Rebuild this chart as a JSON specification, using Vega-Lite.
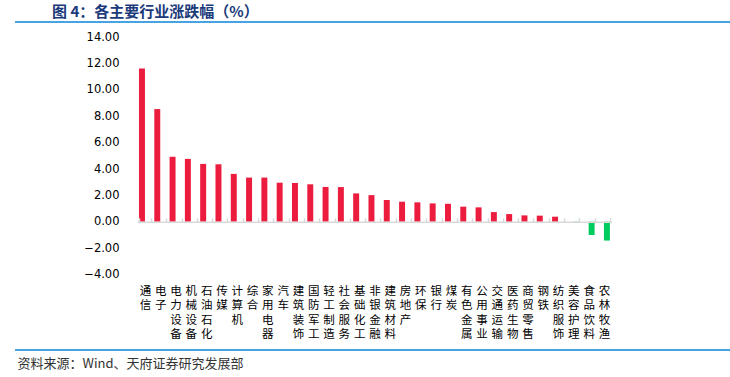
{
  "$schema": "https://vega.github.io/schema/vega-lite/v6.json",
  "width": 715,
  "height": 328,
  "autosize": {"type": "none"},
  "padding": {"left": 15, "top": 22, "right": 0, "bottom": 27},
  "background": "white",
  "title": {
    "text": "图 4：各主要行业涨跌幅（%）",
    "anchor": "start",
    "frame": "group",
    "dx": 37,
    "offset": 1,
    "font": "Noto Sans CJK SC",
    "fontSize": 15,
    "fontWeight": "bold",
    "color": "#1B3A7A"
  },
  "config": {"view": {"stroke": null}},
  "resolve": {"scale": {"y": "independent"}},
  "layer": [
    {
      "data": {
        "values": [
          {"industry": "通信", "value": 11.64, "dir": "涨"},
          {"industry": "电子", "value": 8.55, "dir": "涨"},
          {"industry": "电力设备", "value": 4.93, "dir": "涨"},
          {"industry": "机械设备", "value": 4.77, "dir": "涨"},
          {"industry": "石油石化", "value": 4.39, "dir": "涨"},
          {"industry": "传媒", "value": 4.36, "dir": "涨"},
          {"industry": "计算机", "value": 3.63, "dir": "涨"},
          {"industry": "综合", "value": 3.35, "dir": "涨"},
          {"industry": "家用电器", "value": 3.35, "dir": "涨"},
          {"industry": "汽车", "value": 2.96, "dir": "涨"},
          {"industry": "建筑装饰", "value": 2.94, "dir": "涨"},
          {"industry": "国防军工", "value": 2.84, "dir": "涨"},
          {"industry": "轻工制造", "value": 2.64, "dir": "涨"},
          {"industry": "社会服务", "value": 2.63, "dir": "涨"},
          {"industry": "基础化工", "value": 2.15, "dir": "涨"},
          {"industry": "非银金融", "value": 2.02, "dir": "涨"},
          {"industry": "建筑材料", "value": 1.65, "dir": "涨"},
          {"industry": "房地产", "value": 1.52, "dir": "涨"},
          {"industry": "环保", "value": 1.47, "dir": "涨"},
          {"industry": "银行", "value": 1.39, "dir": "涨"},
          {"industry": "煤炭", "value": 1.36, "dir": "涨"},
          {"industry": "有色金属", "value": 1.14, "dir": "涨"},
          {"industry": "公用事业", "value": 1.09, "dir": "涨"},
          {"industry": "交通运输", "value": 0.73, "dir": "涨"},
          {"industry": "医药生物", "value": 0.58, "dir": "涨"},
          {"industry": "商贸零售", "value": 0.48, "dir": "涨"},
          {"industry": "钢铁", "value": 0.46, "dir": "涨"},
          {"industry": "纺织服饰", "value": 0.38, "dir": "涨"},
          {"industry": "美容护理", "value": -0.1, "dir": "跌"},
          {"industry": "食品饮料", "value": -1.01, "dir": "跌"},
          {"industry": "农林牧渔", "value": -1.43, "dir": "跌"}
        ]
      },
      "mark": {"type": "bar"},
      "encoding": {
        "x": {
          "field": "industry",
          "type": "nominal",
          "sort": null,
          "scale": {"range": [122.3, 596.6], "paddingInner": 0.22, "paddingOuter": 0.11},
          "axis": {
            "orient": "bottom",
            "offset": -128.3,
            "zindex": 1,
            "domain": true,
            "domainColor": "#D9D9D9",
            "domainWidth": 1.5,
            "ticks": true,
            "tickBand": "extent",
            "tickSize": -4,
            "tickColor": "#D9D9D9",
            "tickWidth": 1.5,
            "grid": false,
            "labelAngle": 0,
            "labelAlign": "center",
            "labelBaseline": "top",
            "labelExpr": "split(datum.label, '')",
            "labelFont": "Noto Sans CJK SC",
            "labelFontSize": 11.5,
            "labelLineHeight": 14.3,
            "labelColor": "#000000",
            "labelPadding": 68,
            "labelOverlap": false,
            "title": "资料来源：Wind、天府证券研究发展部",
            "titleX": 2,
            "titleY": 141.3,
            "titleAlign": "left",
            "titleBaseline": "middle",
            "titleAngle": 0,
            "titleFont": "Noto Sans CJK SC",
            "titleFontSize": 13,
            "titleFontWeight": "normal",
            "titleColor": "#333333"
          }
        },
        "xOffset": {
          "field": "dir",
          "type": "nominal",
          "scale": {"domain": ["涨", "跌"], "paddingInner": 0, "paddingOuter": 0}
        },
        "y": {
          "field": "value",
          "type": "quantitative",
          "scale": {"domain": [-4, 14], "range": [252.4, 15.3], "nice": false, "zero": false},
          "axis": {
            "orient": "left",
            "offset": -120,
            "values": [-4, -2, 0, 2, 4, 6, 8, 10, 12, 14],
            "format": ".2f",
            "domain": false,
            "ticks": false,
            "grid": false,
            "labelPadding": 16,
            "labelFont": "DejaVu Sans",
            "labelFontSize": 11.5,
            "labelColor": "#000000",
            "title": null
          }
        },
        "color": {
          "field": "dir",
          "type": "nominal",
          "scale": {"domain": ["涨", "跌"], "range": ["#EC1C3E", "#00CC5F"]},
          "legend": null
        }
      }
    },
    {
      "data": {"values": [{"edge": "header"}, {"edge": "footer"}]},
      "mark": {"type": "rule", "color": "#0A84D8", "strokeWidth": 1.5},
      "encoding": {
        "y": {
          "field": "edge",
          "type": "nominal",
          "scale": {"type": "point", "domain": ["header", "footer"], "padding": 0},
          "axis": null
        }
      }
    }
  ]
}
